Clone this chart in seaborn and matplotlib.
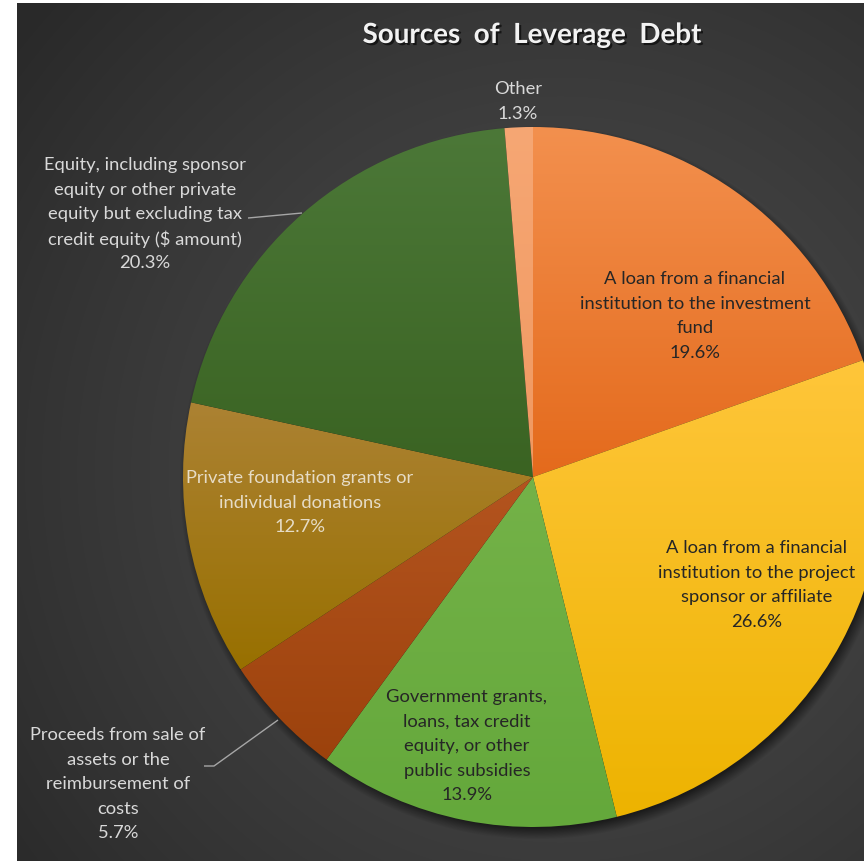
import numpy as np
import matplotlib
matplotlib.use("Agg")
import matplotlib.pyplot as plt
import matplotlib.patheffects as pe
import seaborn as sns

# --- data -------------------------------------------------------------
categories = [
    "A loan from a financial\ninstitution to the investment\nfund",
    "A loan from a financial\ninstitution to the project\nsponsor or affiliate",
    "Government grants,\nloans, tax credit\nequity, or other\npublic subsidies",
    "Proceeds from sale of\nassets or the\nreimbursement of\ncosts",
    "Private foundation grants or\nindividual donations",
    "Equity, including sponsor\nequity or other private\nequity but excluding tax\ncredit equity ($ amount)",
    "Other",
]
shares = [19.6, 26.6, 13.9, 5.7, 12.7, 20.3, 1.3]
title = "Sources  of  Leverage  Debt"

# --- styling ----------------------------------------------------------
# (light top, darker bottom) gradient stops for each slice
slice_colors = [
    ("#F3904E", "#E46A1C"),
    ("#FFC63A", "#EDB300"),
    ("#74B248", "#64A83B"),
    ("#B4541F", "#9C420C"),
    ("#AC8233", "#987000"),
    ("#4C7838", "#3A6322"),
    ("#F6A774", "#F09860"),
]
label_colors = ["#262626", "#262626", "#262626", "#D9D9D9",
                "#E6DCC6", "#D9D9D9", "#D9D9D9"]
# text anchor (pixel x, pixel y of first line)
label_pos = [(695, 279), (757, 548), (467, 697), (118, 735),
             (300, 478), (145, 165), (518, 89)]
line_step = 24.6

sns.set_theme(style="white")
plt.rcParams["font.family"] = ["Lato", "DejaVu Sans"]

W, H = 864, 862
fig = plt.figure(figsize=(W / 100, H / 100), dpi=100, facecolor="white")
ax = fig.add_axes([0, 0, 1, 1])


def Y(py):
    return H - py


# background panel with soft radial shading
x0, y0 = 17, 4
yy, xx = np.mgrid[y0:H, x0:W]
d = np.hypot(xx - 560, yy - 470) / 700.0
t = np.clip(d, 0, 1) ** 1.3
g = (0x4B * (1 - t) + 0x29 * t) / 255.0
bg = np.dstack([g, g, g])
ax.imshow(bg, extent=(x0, W, Y(H), Y(y0)), origin="upper",
          zorder=0, interpolation="bilinear")

cx, cy, R = 533, 478, 350

# drop shadow under the pie
sd = np.hypot(xx - (cx + 3), yy - (cy + 5))
salpha = 0.55 * np.clip((R + 7 - sd) / 12.0, 0, 1)
shadow = np.zeros((H - y0, W - x0, 4))
shadow[..., 3] = salpha
ax.imshow(shadow, extent=(x0, W, Y(H), Y(y0)), origin="upper",
          zorder=1, interpolation="bilinear")

wedges, _ = ax.pie(shares, startangle=90, counterclock=False,
                   center=(cx, Y(cy)), radius=R, frame=True,
                   wedgeprops=dict(linewidth=0))


def hex2rgb(h):
    h = h.lstrip("#")
    return np.array([int(h[i:i + 2], 16) for i in (0, 2, 4)]) / 255.0


for w, (ctop, cbot) in zip(wedges, slice_colors):
    w.set_facecolor("none")
    w.set_zorder(2)
    ext = w.get_path().get_extents()
    n = 256
    s = np.linspace(0, 1, n)[:, None]
    col = hex2rgb(ctop) * (1 - s) + hex2rgb(cbot) * s
    img = np.repeat(col[:, None, :], 2, axis=1)
    im = ax.imshow(img, extent=(ext.x0, ext.x1, ext.y0, ext.y1),
                   origin="upper", aspect="auto", zorder=2,
                   interpolation="bilinear")
    im.set_clip_path(w)

# leader lines
line_kw = dict(color="#A6A6A6", lw=1.0, zorder=3, solid_capstyle="butt")
ax.plot([248, 302], [Y(219), Y(214)], **line_kw)
ax.plot([204, 214, 278], [Y(767), Y(767), Y(721)], **line_kw)

# slice labels
for name, val, (px, py), c in zip(categories, shares, label_pos, label_colors):
    lines = name.split("\n") + [f"{val:.1f}%"]
    for i, ln in enumerate(lines):
        ax.text(px, Y(py + i * line_step), ln, ha="center", va="center",
                fontsize=13.2, color=c, zorder=4)

# title
ax.text(532, Y(36), title, ha="center", va="center", fontsize=20,
        fontweight="bold", color="#F2F2F2", zorder=5,
        path_effects=[pe.withSimplePatchShadow(offset=(1.5, -1.5),
                                               shadow_rgbFace="black",
                                               alpha=0.6)])

ax.set_xlim(0, W)
ax.set_ylim(0, H)
ax.set_aspect("auto")
ax.set_axis_off()

fig.savefig("out.png", dpi=100, facecolor="white")
